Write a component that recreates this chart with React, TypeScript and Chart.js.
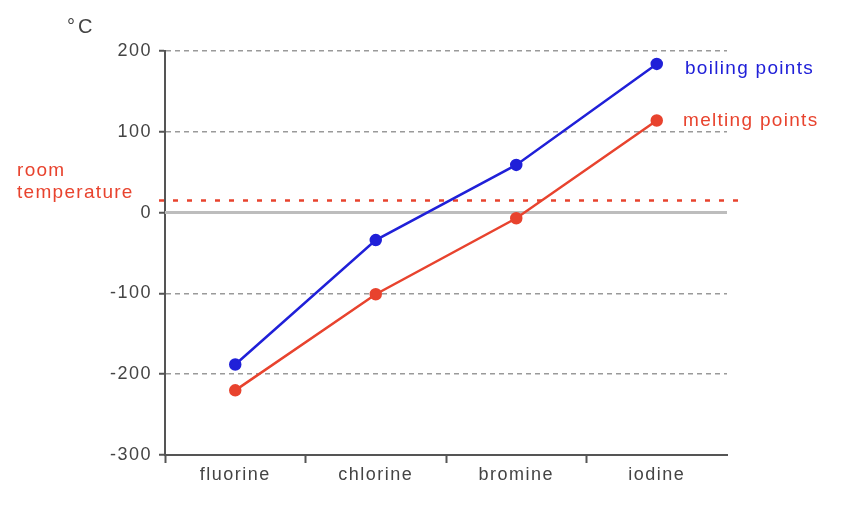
import { useEffect, useRef } from "react"
import { Chart, type ChartConfiguration, type Plugin, registerables } from "chart.js"

Chart.register(...registerables)

const elements = ["fluorine", "chlorine", "bromine", "iodine"]
const boilingPoints = [-188, -34, 59, 184]
const meltingPoints = [-220, -101, -7, 114]
const roomTemperature = 15
const yTicks = [-300, -200, -100, 0, 100, 200]

const BLUE = "#2020d8"
const RED = "#e8432e"
const FONT = '"Liberation Sans", Arial, sans-serif'

const annotations: Plugin = {
  id: "annotations",
  beforeDraw(chart) {
    // wide tracking like the original's text
    ;(chart.ctx as any).letterSpacing = "1.5px"
  },
  beforeDatasetsDraw(chart) {
    const { ctx, chartArea } = chart
    const y = chart.scales.y
    ctx.save()
    // zero line
    ctx.strokeStyle = "#bdbdbd"
    ctx.lineWidth = 3
    ctx.beginPath()
    ctx.moveTo(chartArea.left, y.getPixelForValue(0))
    ctx.lineTo(chartArea.right, y.getPixelForValue(0))
    ctx.stroke()
    // room temperature line
    const ry = y.getPixelForValue(roomTemperature)
    ctx.strokeStyle = RED
    ctx.lineWidth = 2.5
    ctx.setLineDash([5, 9])
    ctx.beginPath()
    ctx.moveTo(chartArea.left - 6, ry)
    ctx.lineTo(chartArea.right + 14, ry)
    ctx.stroke()
    ctx.restore()
  },
  afterDraw(chart) {
    const { ctx, chartArea } = chart
    const y = chart.scales.y
    const ry = y.getPixelForValue(roomTemperature)
    const last = elements.length - 1
    ctx.save()
    ctx.font = `19px ${FONT}`
    ;(ctx as any).letterSpacing = "1.3px"
    ctx.textBaseline = "middle"
    ctx.textAlign = "left"
    ctx.fillStyle = RED
    ctx.fillText("room", 17, ry - 30)
    ctx.fillText("temperature", 17, ry - 8)
    ctx.fillStyle = BLUE
    ctx.fillText("boiling points", chartArea.right - 42, y.getPixelForValue(boilingPoints[last]) + 5)
    ctx.fillStyle = RED
    ctx.fillText("melting points", chartArea.right - 44, y.getPixelForValue(meltingPoints[last]))
    ctx.fillStyle = "#444"
    ctx.font = `20px ${FONT}`
    ;(ctx as any).letterSpacing = "3px"
    ctx.fillText("°C", 67, 27)
    ctx.restore()
  },
}

export default function App() {
  const chartRef = useRef<HTMLCanvasElement>(null)
  const chartInstance = useRef<Chart | null>(null)

  useEffect(() => {
    document.body.style.margin = "0"
    if (!chartRef.current) return
    if (chartInstance.current) chartInstance.current.destroy()
    const ctx = chartRef.current.getContext("2d")
    if (!ctx) return

    const config: ChartConfiguration = {
      type: "line",
      data: {
        labels: elements,
        datasets: [
          {
            label: "boiling points",
            data: boilingPoints,
            borderColor: BLUE,
            backgroundColor: BLUE,
            borderWidth: 2.5,
            pointRadius: 5,
            tension: 0,
          },
          {
            label: "melting points",
            data: meltingPoints,
            borderColor: RED,
            backgroundColor: RED,
            borderWidth: 2.5,
            pointRadius: 5,
            tension: 0,
          },
        ],
      },
      options: {
        animation: false,
        responsive: true,
        maintainAspectRatio: false,
        layout: { padding: { top: 51, right: 141, bottom: 0, left: 0 } },
        plugins: {
          legend: { display: false },
          tooltip: { enabled: false },
        },
        scales: {
          x: {
            offset: true,
            grid: {
              offset: true,
              drawOnChartArea: false,
              drawTicks: true,
              tickLength: 8,
              // no tick mark at the right end of the axis
              tickColor: (c: any) => (c.index === undefined || c.index >= elements.length ? "rgba(0,0,0,0)" : "#555"),
              tickWidth: 2,
            },
            border: { color: "#555", width: 2 },
            ticks: { color: "#444", font: { family: FONT, size: 18 }, padding: 1 },
            afterFit: (scale) => {
              scale.height = 61
            },
          },
          y: {
            min: -300,
            max: 200,
            afterBuildTicks: (scale) => {
              scale.ticks = yTicks.map((v) => ({ value: v }))
            },
            grid: {
              color: (c) => (c.tick && (c.tick.value === 0 || c.tick.value === -300) ? "rgba(0,0,0,0)" : "#9a9a9a"),
              lineWidth: 1.5,
              tickLength: 6,
              tickColor: "#555",
              tickWidth: 2,
            },
            border: { color: "#555", width: 2, dash: [5, 4] },
            ticks: { color: "#444", font: { family: FONT, size: 18 }, padding: 7 },
            afterFit: (scale) => {
              scale.width = 165
            },
          },
        },
      },
      plugins: [annotations],
    }

    chartInstance.current = new Chart(ctx, config)
    return () => {
      if (chartInstance.current) chartInstance.current.destroy()
    }
  }, [])

  return (
    <div style={{ position: "relative", width: 868, height: 516 }}>
      <canvas ref={chartRef} />
    </div>
  )
}
